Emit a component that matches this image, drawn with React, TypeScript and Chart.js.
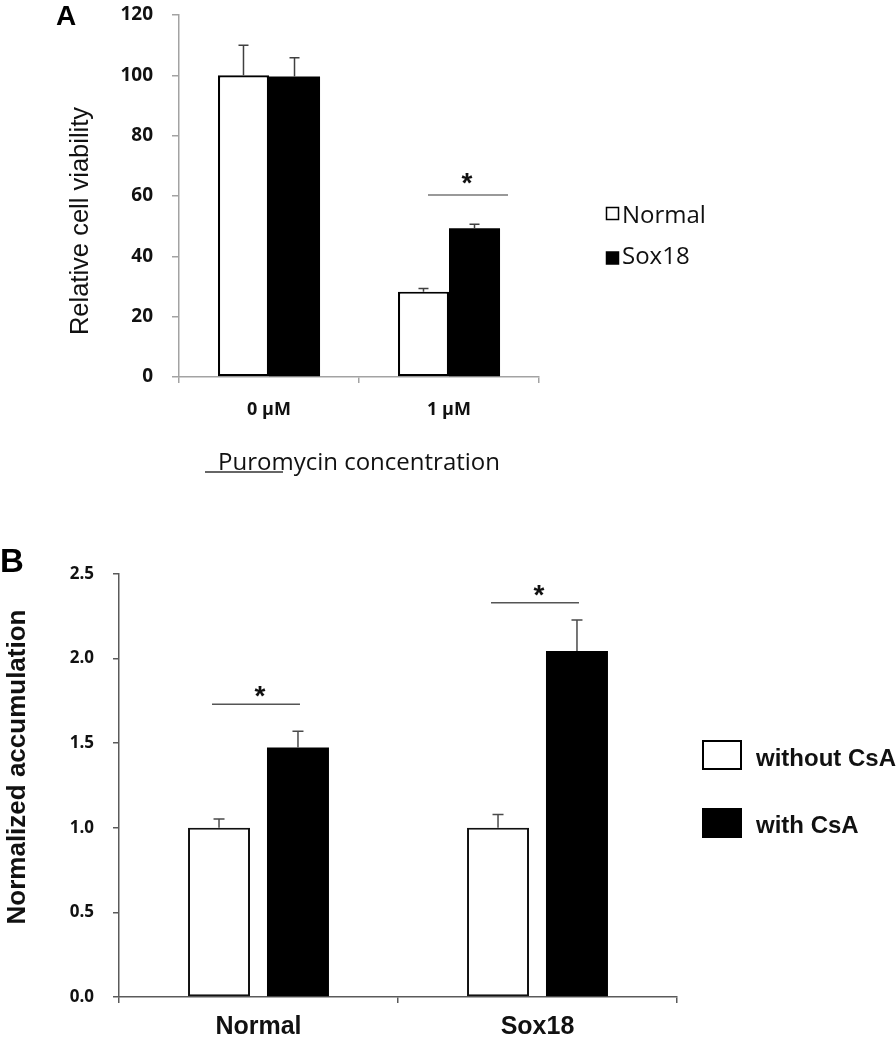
import React, { useEffect, useRef } from 'react';
import { Chart, registerables } from 'chart.js';

Chart.register(...registerables);

// ---------- Panel A data ----------
const aCategories = ['0 µM', '1 µM'];
const aSeriesNames = ['Normal', 'Sox18'];
const aNormal = [100, 28.3];
const aSox18 = [99.6, 49.3];
const aNormalErr = [10, 1.0];
const aSox18Err = [6.2, 1.3];
const aTicks = [0, 20, 40, 60, 80, 100, 120];
const aSig = [{ index: 1, y: 60.3, label: '*' }];
const aYTitle = 'Relative cell viability';
const aXTitle = 'Puromycin concentration';

// ---------- Panel B data ----------
const bCategories = ['Normal', 'Sox18'];
const bSeriesNames = ['without CsA', 'with CsA'];
const bWithout = [1.0, 1.0];
const bWith = [1.475, 2.045];
const bWithoutErr = [0.052, 0.078];
const bWithErr = [0.095, 0.183];
const bTicks = [0, 0.5, 1.0, 1.5, 2.0, 2.5];
const bSig = [
  { index: 0, y: 1.73, label: '*' },
  { index: 1, y: 2.33, label: '*' },
];
const bYTitle = 'Normalized accumulation';

type SigItem = { index: number; y: number; label: string };

function errorBarPlugin(errs: number[][], color: string, lw: number, capHalf: number) {
  return {
    id: 'errorBars',
    afterDatasetsDraw(chart: any) {
      const ctx = chart.ctx;
      const ys = chart.scales.y;
      ctx.save();
      ctx.strokeStyle = color;
      ctx.lineWidth = lw;
      chart.data.datasets.forEach((ds: any, di: number) => {
        const meta = chart.getDatasetMeta(di);
        meta.data.forEach((bar: any, i: number) => {
          const v = ds.data[i] as number;
          const e = errs[di][i];
          const top = ys.getPixelForValue(v + e);
          const base = ys.getPixelForValue(v);
          ctx.beginPath();
          ctx.moveTo(bar.x, base);
          ctx.lineTo(bar.x, top);
          ctx.moveTo(bar.x - capHalf, top);
          ctx.lineTo(bar.x + capHalf, top);
          ctx.stroke();
        });
      });
      ctx.restore();
    },
  };
}

function sigPlugin(sigs: SigItem[], opts: { startOff: number; endOff: number; color: string; starDy: number; starDx: number; font: string }) {
  return {
    id: 'sigMarks',
    afterDatasetsDraw(chart: any) {
      const ctx = chart.ctx;
      const ys = chart.scales.y;
      const m0 = chart.getDatasetMeta(0);
      const m1 = chart.getDatasetMeta(1);
      ctx.save();
      sigs.forEach((s) => {
        const x0 = m0.data[s.index].x + opts.startOff;
        const x1 = m1.data[s.index].x + opts.endOff;
        const yp = ys.getPixelForValue(s.y);
        ctx.strokeStyle = opts.color;
        ctx.lineWidth = 1.5;
        ctx.beginPath();
        ctx.moveTo(x0, yp);
        ctx.lineTo(x1, yp);
        ctx.stroke();
        ctx.fillStyle = '#111';
        ctx.font = opts.font;
        ctx.textAlign = 'center';
        ctx.textBaseline = 'alphabetic';
        ctx.fillText(s.label, (x0 + x1) / 2 + opts.starDx, yp + opts.starDy);
      });
      ctx.restore();
    },
  };
}

type LegendItem = { text: string; fill: string; x: number; y: number; w: number; h: number; tx: number; ty: number };
type OverlayCfg = {
  letter: { text: string; x: number; y: number; font: string };
  yTitle: { text: string; x: number; y: number; font: string };
  legend: { items: LegendItem[]; font: string; border: number };
  underline?: { x0: number; x1: number; y: number };
};

function overlayPlugin(cfg: OverlayCfg) {
  return {
    id: 'overlay',
    afterDraw(chart: any) {
      const ctx = chart.ctx;
      ctx.save();
      ctx.fillStyle = '#000';
      ctx.font = cfg.letter.font;
      ctx.textAlign = 'left';
      ctx.textBaseline = 'alphabetic';
      ctx.fillText(cfg.letter.text, cfg.letter.x, cfg.letter.y);

      ctx.save();
      ctx.translate(cfg.yTitle.x, cfg.yTitle.y);
      ctx.rotate(-Math.PI / 2);
      ctx.font = cfg.yTitle.font;
      ctx.fillStyle = '#111';
      ctx.textAlign = 'center';
      ctx.textBaseline = 'alphabetic';
      ctx.fillText(cfg.yTitle.text, 0, 0);
      ctx.restore();

      cfg.legend.items.forEach((it) => {
        ctx.fillStyle = it.fill;
        ctx.fillRect(it.x, it.y, it.w, it.h);
        ctx.strokeStyle = '#000';
        ctx.lineWidth = cfg.legend.border;
        ctx.strokeRect(it.x, it.y, it.w, it.h);
        ctx.fillStyle = '#111';
        ctx.font = cfg.legend.font;
        ctx.textAlign = 'left';
        ctx.textBaseline = 'alphabetic';
        ctx.fillText(it.text, it.tx, it.ty);
      });

      if (cfg.underline) {
        ctx.strokeStyle = '#333';
        ctx.lineWidth = 1.5;
        ctx.beginPath();
        ctx.moveTo(cfg.underline.x0, cfg.underline.y);
        ctx.lineTo(cfg.underline.x1, cfg.underline.y);
        ctx.stroke();
      }
      ctx.restore();
    },
  };
}

function PanelA() {
  const ref = useRef<HTMLCanvasElement>(null);
  useEffect(() => {
    const axisColor = '#a3a3a3';
    const chart = new Chart(ref.current as HTMLCanvasElement, {
      type: 'bar',
      data: {
        labels: aCategories,
        datasets: [
          { label: aSeriesNames[0], data: aNormal, backgroundColor: '#ffffff', borderColor: '#000', borderWidth: 2.2, borderSkipped: false, categoryPercentage: 0.567, barPercentage: 1 },
          { label: aSeriesNames[1], data: aSox18, backgroundColor: '#000000', borderColor: '#000', borderWidth: 0, categoryPercentage: 0.567, barPercentage: 1 },
        ],
      },
      options: {
        responsive: false,
        animation: false,
        events: [],
        layout: { padding: { left: 0, top: 15, right: 357, bottom: 0 } },
        plugins: { legend: { display: false }, tooltip: { enabled: false } },
        scales: {
          x: {
            grid: { offset: true, drawOnChartArea: false, tickLength: 6, color: axisColor, lineWidth: 1.5 },
            border: { color: axisColor, width: 1.5 },
            ticks: { font: { family: 'Open Sans', size: 18, weight: 'bold' }, color: '#111', padding: 16 },
            title: { display: true, text: aXTitle, font: { family: 'Open Sans', size: 24 }, color: '#111', padding: { top: 0, bottom: 22 } },
            afterFit: (s: any) => { s.height = 123; },
          },
          y: {
            min: aTicks[0],
            max: aTicks[aTicks.length - 1],
            ticks: { stepSize: aTicks[1] - aTicks[0], font: { family: 'Open Sans', size: 19, weight: 'bold' }, color: '#111', padding: 19 },
            grid: { drawOnChartArea: false, tickLength: 7, color: axisColor, lineWidth: 1.5 },
            border: { color: axisColor, width: 1.5 },
            afterFit: (s: any) => { s.width = 179; s.paddingTop = 10; s.paddingBottom = 10; },
          },
        },
      } as any,
      plugins: [
        errorBarPlugin([aNormalErr, aSox18Err], '#404040', 1.5, 5),
        sigPlugin(aSig, { startOff: 4.5, endOff: 33.5, color: '#777', starDy: -3, starDx: -1, font: 'bold 28px "Liberation Sans"' }),
        overlayPlugin({
          letter: { text: 'A', x: 56, y: 25, font: 'bold 28px "Liberation Sans"' },
          yTitle: { text: aYTitle, x: 88, y: 221, font: '25.5px "Liberation Sans"' },
          legend: {
            font: '24px "Open Sans"',
            border: 1.5,
            items: [
              { text: aSeriesNames[0], fill: '#fff', x: 606.5, y: 207.5, w: 12, h: 12, tx: 622, ty: 223 },
              { text: aSeriesNames[1], fill: '#000', x: 606.5, y: 252, w: 12, h: 12, tx: 622, ty: 264 },
            ],
          },
          underline: { x0: 205, x1: 283, y: 472 },
        }),
      ],
    });
    return () => chart.destroy();
  }, []);
  return <canvas ref={ref} width={896} height={500} style={{ display: 'block' }} />;
}

function PanelB() {
  const ref = useRef<HTMLCanvasElement>(null);
  useEffect(() => {
    const axisColor = '#5a5a5a';
    const chart = new Chart(ref.current as HTMLCanvasElement, {
      type: 'bar',
      data: {
        labels: bCategories,
        datasets: [
          { label: bSeriesNames[0], data: bWithout, backgroundColor: '#ffffff', borderColor: '#111', borderWidth: 2, borderSkipped: false, categoryPercentage: 0.566, barPercentage: 0.785 },
          { label: bSeriesNames[1], data: bWith, backgroundColor: '#000000', borderColor: '#000', borderWidth: 0, categoryPercentage: 0.566, barPercentage: 0.785 },
        ],
      },
      options: {
        responsive: false,
        animation: false,
        events: [],
        layout: { padding: { left: 0, top: 34, right: 219, bottom: 0 } },
        plugins: { legend: { display: false }, tooltip: { enabled: false } },
        scales: {
          x: {
            grid: { offset: true, drawOnChartArea: false, tickLength: 6, color: axisColor, lineWidth: 1.5 },
            border: { color: axisColor, width: 1.5 },
            ticks: { font: { family: 'Liberation Sans', size: 25, weight: 'bold' }, color: '#111', padding: 9 },
            afterFit: (s: any) => { s.height = 41; },
          },
          y: {
            min: bTicks[0],
            max: bTicks[bTicks.length - 1],
            ticks: {
              stepSize: bTicks[1] - bTicks[0],
              font: { family: 'Open Sans', size: 17, weight: 'bold' },
              color: '#111',
              padding: 19,
              callback: (v: any) => Number(v).toFixed(1),
            },
            grid: { drawOnChartArea: false, tickLength: 6, color: axisColor, lineWidth: 1.5 },
            border: { color: axisColor, width: 1.5 },
            afterFit: (s: any) => { s.width = 119; s.paddingTop = 10; s.paddingBottom = 10; },
          },
        },
      } as any,
      plugins: [
        errorBarPlugin([bWithoutErr, bWithErr], '#4a4a4a', 1.5, 5.5),
        sigPlugin(bSig, { startOff: -7, endOff: 2, color: '#555', starDy: 1, starDx: 4, font: 'bold 28px "Liberation Sans"' }),
        overlayPlugin({
          letter: { text: 'B', x: 0, y: 32, font: 'bold 33px "Liberation Sans"' },
          yTitle: { text: bYTitle, x: 25, y: 227, font: 'bold 26px "Liberation Sans"' },
          legend: {
            font: 'bold 24px "Liberation Sans"',
            border: 2,
            items: [
              { text: bSeriesNames[0], fill: '#fff', x: 703, y: 201, w: 38, h: 28, tx: 756, ty: 226 },
              { text: bSeriesNames[1], fill: '#000', x: 703, y: 269, w: 38, h: 28, tx: 756, ty: 293 },
            ],
          },
        }),
      ],
    });
    return () => chart.destroy();
  }, []);
  return <canvas ref={ref} width={896} height={498} style={{ display: 'block' }} />;
}

export default function App() {
  return (
    <div style={{ position: 'absolute', left: 0, top: 0, width: 896, height: 1038, background: '#fff', overflow: 'hidden' }}>
      <div style={{ position: 'absolute', left: 0, top: 0 }}>
        <PanelA />
      </div>
      <div style={{ position: 'absolute', left: 0, top: 540 }}>
        <PanelB />
      </div>
    </div>
  );
}
